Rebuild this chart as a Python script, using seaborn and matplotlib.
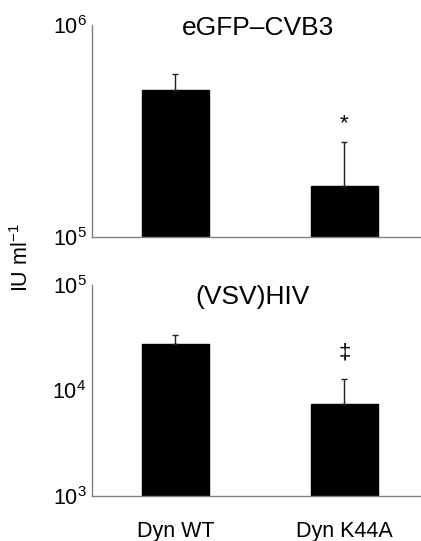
import numpy as np
import pandas as pd
import seaborn as sns
import matplotlib.pyplot as plt
from matplotlib.ticker import FixedLocator, LogFormatterSciNotation, NullLocator

conditions = ['Dyn WT', 'Dyn K44A']

cvb3_mean = [4.95e5, 1.74e5]
cvb3_upper = [5.85e5, 2.8e5]
cvb3_mark = ['', '*']

hiv_mean = [2.76e4, 7.5e3]
hiv_upper = [3.38e4, 1.27e4]
hiv_mark = ['', '‡']

sns.set_style('white')
plt.rcParams['font.family'] = ['Liberation Sans', 'DejaVu Sans']
plt.rcParams['mathtext.fontset'] = 'custom'
plt.rcParams['mathtext.rm'] = 'Liberation Sans'
plt.rcParams['mathtext.default'] = 'regular'
plt.rcParams['text.color'] = 'black'
plt.rcParams['xtick.labelcolor'] = 'black'
plt.rcParams['ytick.labelcolor'] = 'black'

fig = plt.figure(figsize=(4.21, 5.41), dpi=100)
ax_top = fig.add_axes([0.2185, 0.5619, 0.7815, 0.3919])
ax_bot = fig.add_axes([0.2185, 0.0837, 0.7815, 0.3895])

panels = [
    (ax_top, 'eGFP–CVB3', cvb3_mean, cvb3_upper, cvb3_mark, (1e5, 1e6), [1e5, 1e6], (0.505, 0.988)),
    (ax_bot, '(VSV)HIV', hiv_mean, hiv_upper, hiv_mark, (1e3, 1e5), [1e3, 1e4, 1e5], (0.488, 0.945)),
]

for ax, title, mean, upper, mark, ylim, yticks, tpos in panels:
    df = pd.DataFrame({'cond': conditions, 'value': mean})
    ax.set_yscale('log')
    sns.barplot(data=df, x='cond', y='value', color='black', width=0.4,
                saturation=1, edgecolor='black', ax=ax)
    x = np.arange(len(conditions))
    err = np.array(upper) - np.array(mean)
    ax.errorbar(x, mean, yerr=[np.zeros_like(err), err], fmt='none',
                ecolor='#222222', elinewidth=1, capsize=2.5, capthick=1)
    for xi, up, m in zip(x, upper, mark):
        if m:
            ax.annotate(m, (xi, up), xytext=(0, 8 if m == '*' else 26),
                        textcoords='offset pixels', ha='center',
                        va='bottom' if m == '*' else 'center', fontsize=16,
                        color='black')
    ax.set_ylim(*ylim)
    ax.set_xlim(-0.494, 1.453)
    ax.yaxis.set_major_locator(FixedLocator(yticks))
    ax.yaxis.set_major_formatter(LogFormatterSciNotation())
    ax.yaxis.set_minor_locator(NullLocator())
    ax.set_xticks([0.5], minor=True)
    ax.tick_params(axis='x', which='major', length=0, labelsize=15.5, pad=18,
                   labelcolor='black')
    ax.tick_params(axis='x', which='minor', length=3, width=1, color='#555555', direction='out')
    ax.tick_params(axis='y', which='major', length=3, width=1, color='#808080',
                   labelsize=15.5, pad=1, direction='out', labelcolor='black')
    for side in ['top', 'right']:
        ax.spines[side].set_visible(False)
    for side in ['left', 'bottom']:
        ax.spines[side].set_color('#808080')
        ax.spines[side].set_linewidth(1)
    ax.set_xlabel('')
    ax.set_ylabel('')
    ax.text(tpos[0], tpos[1], title, transform=ax.transAxes, ha='center', va='center',
            fontsize=19, color='black')

ax_top.set_xticklabels(['', ''])
ax_bot.set_xticklabels(conditions)

fig.text(0.052, 0.523, 'IU ml$^{-1}$', rotation=90, ha='center', va='center',
         fontsize=15.5, color='black')

fig.savefig('out.png', dpi=100)
